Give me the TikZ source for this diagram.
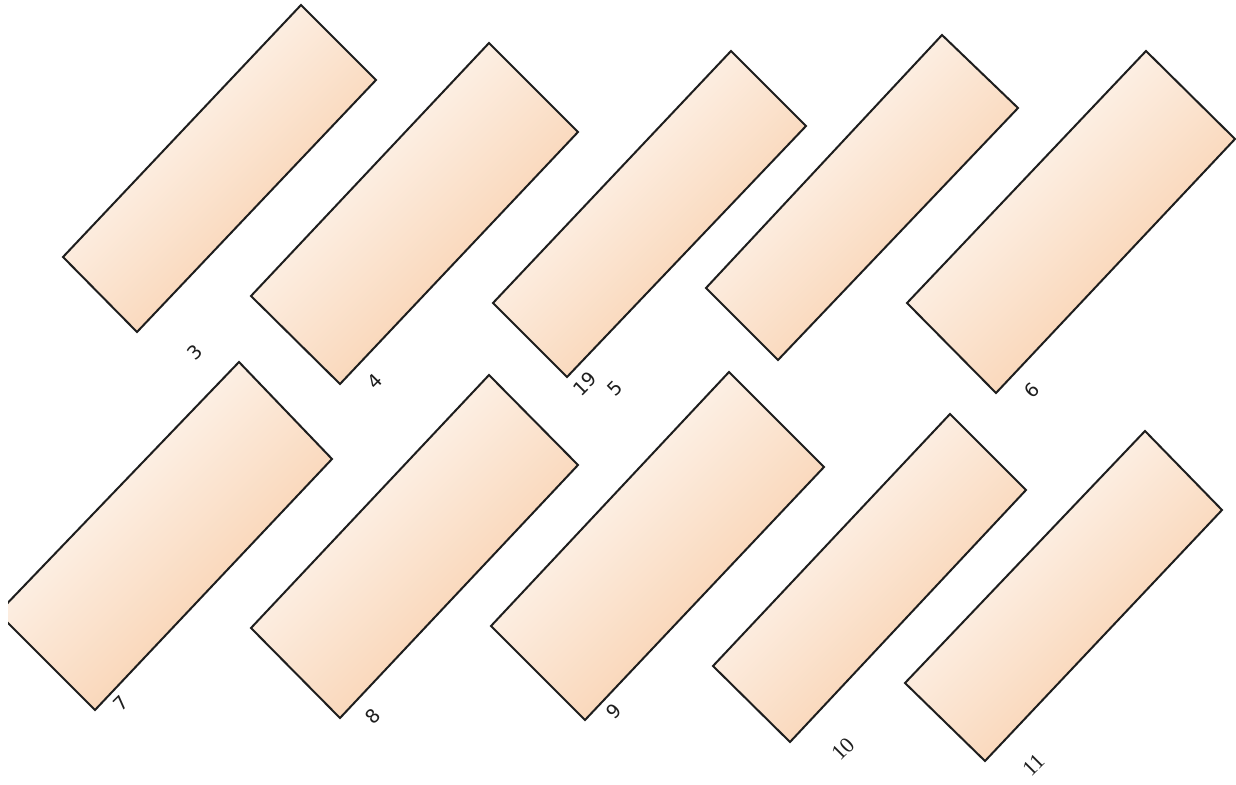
\documentclass[tikz,border=0pt]{standalone}
\usepackage{fontspec}
\setmainfont{DejaVu Sans}
\newfontfamily\sansnum{DejaVu Sans}
\newfontfamily\serifnum{Liberation Serif}
\definecolor{peach}{RGB}{247,200,160}
\definecolor{edge}{RGB}{30,30,30}
\begin{document}
\begin{tikzpicture}[x=1pt,y=-1pt,
  plank/.style={draw=edge,line width=2pt,line join=miter,top color=white,bottom color=peach,shading angle=45},
  lab/.style={rotate=45,inner sep=0pt,font=\sansnum\fontsize{19}{21}\selectfont,text=edge},
  slab/.style={lab,font=\serifnum\fontsize{22}{24}\selectfont}]
\useasboundingbox (0,0) rectangle (1236,784);
\fill[white] (0,0) rectangle (1236,784);
% row 1
\path[plank] (301,5) -- (376,80) -- (137,332) -- (63,257) -- cycle;
\path[plank] (489,43) -- (578,132) -- (340,384) -- (251,296) -- cycle;
\path[plank] (731,51) -- (806,126) -- (567,377) -- (493,303) -- cycle;
\path[plank] (942,35) -- (1018,108) -- (778,360) -- (706,288) -- cycle;
\path[plank] (1146,51) -- (1235,139) -- (996,393) -- (907,303) -- cycle;
% row 2
\begin{scope}
\clip (8,0) rectangle (1236,784);
\path[plank] (239,362) -- (332,459) -- (95,710) -- (-2,613) -- cycle;
\end{scope}
\path[plank] (489,375) -- (578,465) -- (340,718) -- (251,628) -- cycle;
\path[plank] (729,372) -- (824,467) -- (585,720) -- (491,626) -- cycle;
\path[plank] (950,414) -- (1026,490) -- (790,742) -- (713,666) -- cycle;
\path[plank] (1145,431) -- (1222,510) -- (985,761) -- (905,683) -- cycle;
% labels
\node[lab] (l3) at (195,352) {3};
\node[lab] (l4) at (375,381) {4};
\node[lab] (l19) at (585,384) {19};
\node[lab] (l5) at (615,388) {5};
\node[lab] (l6) at (1032,390) {6};
\node[lab] (l7) at (121,703) {7};
\node[lab] (l8) at (373,716) {8};
\node[lab] (l9) at (614,711) {9};
\node[slab] (l10) at (843,749) {10};
\node[slab] (l11) at (1034,765) {11};
\end{tikzpicture}
\end{document}
